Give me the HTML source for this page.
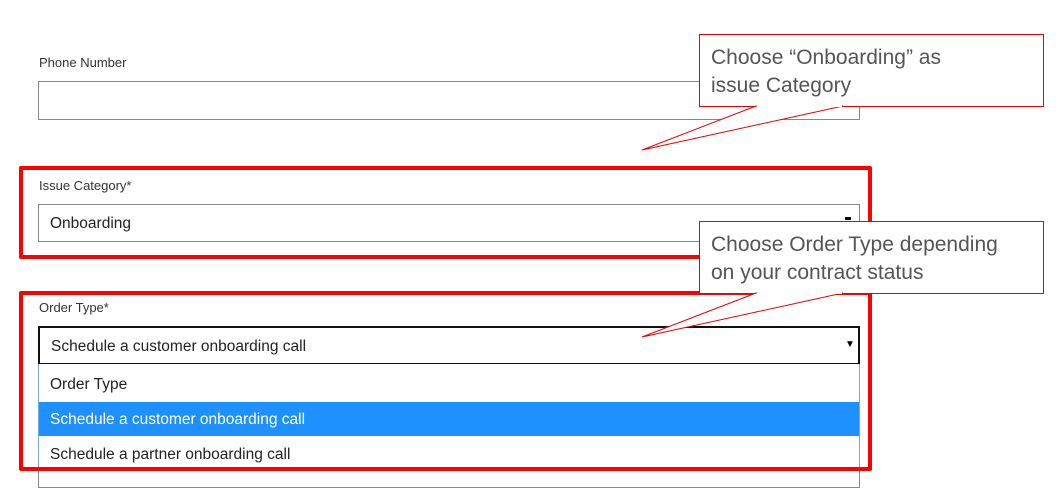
<!DOCTYPE html>
<html><head><style>
body{margin:0;width:1063px;height:502px;background:#fff;position:relative;overflow:hidden;font-family:"Liberation Sans",sans-serif;}
.a{position:absolute;box-sizing:border-box;}
.lbl{font-size:13px;color:#333;}
.t{font-size:15.5px;color:#222;}
.co{border:1px solid #e00;background:#fff;font-size:21px;color:#555;padding:9px 0 0 11px;line-height:28px;}
</style></head><body>
<div class="a lbl" style="left:39px;top:55px;">Phone Number</div>
<div class="a" style="left:38px;top:81px;width:822px;height:39px;border:1px solid #888;"></div>

<div class="a" style="left:19px;top:166px;width:853px;height:93px;border:4px solid #f00;border-radius:2px;"></div>
<div class="a lbl" style="left:39px;top:178px;">Issue Category*</div>
<div class="a" style="left:38px;top:204px;width:822px;height:38px;border:1px solid #888;"></div>
<div class="a t" style="left:50px;top:215px;">Onboarding</div>
<div class="a" style="left:845px;top:217px;width:6px;height:3px;background:#000;"></div>

<div class="a" style="left:38px;top:440px;width:822px;height:48px;border:1px solid #888;"></div>
<div class="a lbl" style="left:39px;top:300px;">Order Type*</div>
<div class="a" style="left:38px;top:326px;width:822px;height:39px;border:2px solid #111;background:#fff;"></div>
<div class="a t" style="left:51px;top:338px;">Schedule a customer onboarding call</div>
<div class="a" style="left:845px;top:339px;font-size:10px;color:#000;">▼</div>
<div class="a" style="left:38px;top:364px;width:822px;height:106px;border:1px solid #7aa7d9;border-top:none;background:#fff;"></div>
<div class="a t" style="left:50px;top:376px;">Order Type</div>
<div class="a" style="left:39px;top:402px;width:820px;height:34px;background:#1e90ff;"></div>
<div class="a t" style="left:50px;top:411px;color:#fff;">Schedule a customer onboarding call</div>
<div class="a t" style="left:50px;top:446px;">Schedule a partner onboarding call</div>
<div class="a" style="left:19px;top:291px;width:853px;height:180px;border:4px solid #f00;border-radius:2px;"></div>

<div class="a co" style="left:699px;top:34px;width:345px;height:73px;">Choose “Onboarding” as<br>issue Category</div>
<div class="a co" style="left:699px;top:221px;width:345px;height:73px;">Choose Order Type depending<br>on your contract status</div>
<svg class="a" style="left:0;top:0" width="1063" height="502">
<polygon points="756,106 642,150 843,106" fill="#fff" stroke="#e00" stroke-width="1"/>
<line x1="757" y1="106" x2="842" y2="106" stroke="#fff" stroke-width="2"/>
<polygon points="756,293 642,337 843,293" fill="#fff" stroke="#e00" stroke-width="1"/>
<line x1="757" y1="293" x2="842" y2="293" stroke="#fff" stroke-width="2"/>
</svg>
</body></html>
